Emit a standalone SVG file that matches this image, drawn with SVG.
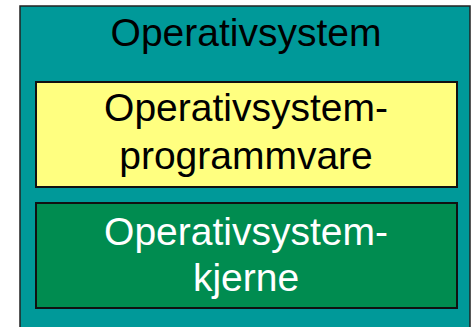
<svg xmlns="http://www.w3.org/2000/svg" width="473" height="327" viewBox="0 0 473 327">
  <style>
    .lbl { font-family: "Liberation Sans", Arial, sans-serif; font-size: 39px; text-anchor: middle; }
    .box { stroke: #111; stroke-width: 2; }
  </style>
  <rect width="473" height="327" fill="#ffffff"/>
  <g id="operativsystem">
    <rect x="20" y="6" width="450" height="330" fill="#009999" stroke="#222" stroke-width="1.5"/>
    <text class="lbl" x="246" y="46" fill="#000">Operativsystem</text>
  </g>
  <g id="programmvare">
    <rect class="box" x="36" y="82" width="421" height="105" fill="#ffff80"/>
    <text class="lbl" x="246" y="121" fill="#000">Operativsystem-</text>
    <text class="lbl" x="246" y="169" fill="#000">programmvare</text>
  </g>
  <g id="kjerne">
    <rect class="box" x="36" y="203" width="421" height="105" fill="#008c50"/>
    <text class="lbl" x="246" y="245" fill="#fff">Operativsystem-</text>
    <text class="lbl" x="246" y="291" fill="#fff">kjerne</text>
  </g>
  <g id="connectors"/>
</svg>
